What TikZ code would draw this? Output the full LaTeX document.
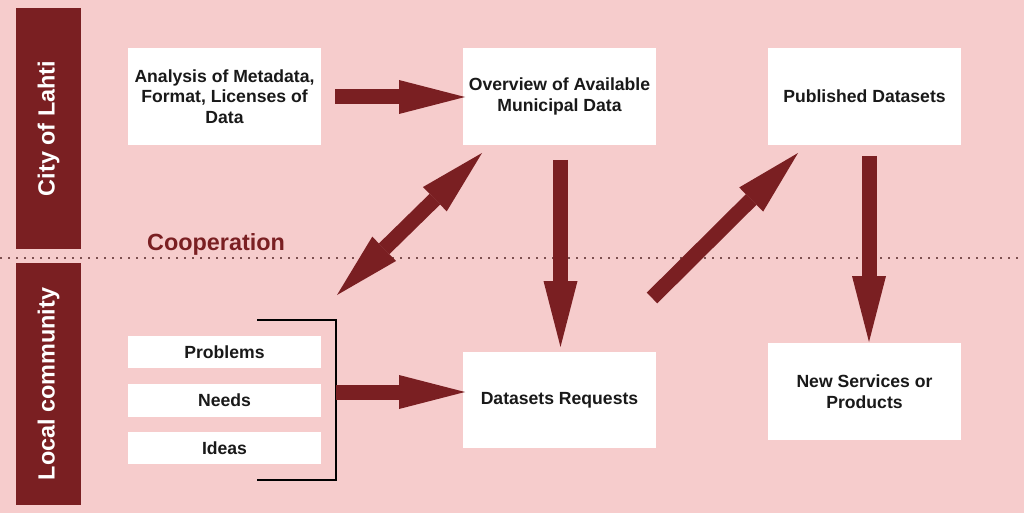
\documentclass[tikz,border=0pt]{standalone}
\usepackage{fontspec}
\setmainfont{Liberation Sans}
\usetikzlibrary{arrows.meta}
\definecolor{bgpink}{RGB}{246,204,204}
\definecolor{darkred}{RGB}{122,31,34}
\definecolor{dotcol}{RGB}{125,80,80}
\tikzset{
  box/.style={fill=white, draw=none, minimum width=193pt, align=center, inner sep=2pt,
    font=\fontsize{17.6}{20.5}\selectfont\bfseries, text=black!90},
  sidebar/.style={fill=darkred, draw=none, minimum width=65pt, rotate=90,
    font=\fontsize{23.4}{26}\selectfont\bfseries, text=white},
  bigtip/.tip={Triangle[length=66pt,width=34pt,line width=0pt,fill=darkred]},
  bigarrow/.style={draw=darkred, line width=15pt, -bigtip},
  bigdarrow/.style={draw=darkred, line width=15pt, bigtip-bigtip},
}
\begin{document}
\begin{tikzpicture}[x=1pt,y=-1pt]
\fill[bgpink] (0,0) rectangle (1024,513);
\useasboundingbox (0,0) rectangle (1024,513);

% side bars (rotated: minimum width is along text direction)
\node[sidebar, minimum width=241pt, minimum height=65pt] (city) at (48.5,128.5) {City of Lahti};
\node[sidebar, minimum width=242pt, minimum height=65pt] (local) at (48.5,384) {Local community};

% dotted separator
\coordinate (dl) at (0,258);
\coordinate (dr) at (1024,258);
\draw[dotcol, line width=1.6pt, dash pattern=on 1.6pt off 6.4pt] (dl) -- (dr);

\node[text=darkred, font=\fontsize{23.4}{26}\selectfont\bfseries] (coop) at (216,244) {Cooperation};

% boxes
\node[box, minimum height=97pt] (an) at (224.5,96.5) {Analysis of Metadata,\\Format, Licenses of\\Data};
\node[box, minimum height=97pt] (ov) at (559.5,96.5) {Overview of Available\\Municipal Data};
\node[box, minimum height=97pt] (pub) at (864.5,96.5) {Published Datasets};
\node[box, minimum height=96pt] (req) at (559.5,400) {Datasets Requests};
\node[box, minimum height=97pt] (ns) at (864.5,391.5) {New Services or\\Products};
\node[box, minimum height=32pt] (prob) at (224.5,352) {Problems};
\node[box, minimum height=33pt] (needs) at (224.5,400.5) {Needs};
\node[box, minimum height=32pt] (ideas) at (224.5,448) {Ideas};

% bracket
\coordinate (brt) at (257,320);
\coordinate (brb) at (257,480);
\coordinate (brc) at (336,392);
\draw[black, line width=1.3pt] (brt) -- (336,320) -- (336,480) -- (brb);

% arrow end points
\coordinate (a1s) at (335,97);
\coordinate (a1e) at (465,97);
\coordinate (a2e) at (465,392);
\coordinate (a3s) at (560.5,160);
\coordinate (a3e) at (560.5,347);
\coordinate (a4s) at (869,156);
\coordinate (a4e) at (869,342);
\coordinate (a5s) at (337,295);
\coordinate (a5e) at (482,153);
\coordinate (a6s) at (652,298);
\coordinate (a6e) at (798,153);

\draw[bigarrow] (a1s) -- (a1e);
\draw[bigarrow] (brc) -- (a2e);
\draw[bigarrow] (a3s) -- (a3e);
\draw[bigarrow] (a4s) -- (a4e);
\draw[bigdarrow] (a5s) -- (a5e);
\draw[bigarrow] (a6s) -- (a6e);
\end{tikzpicture}
\end{document}
